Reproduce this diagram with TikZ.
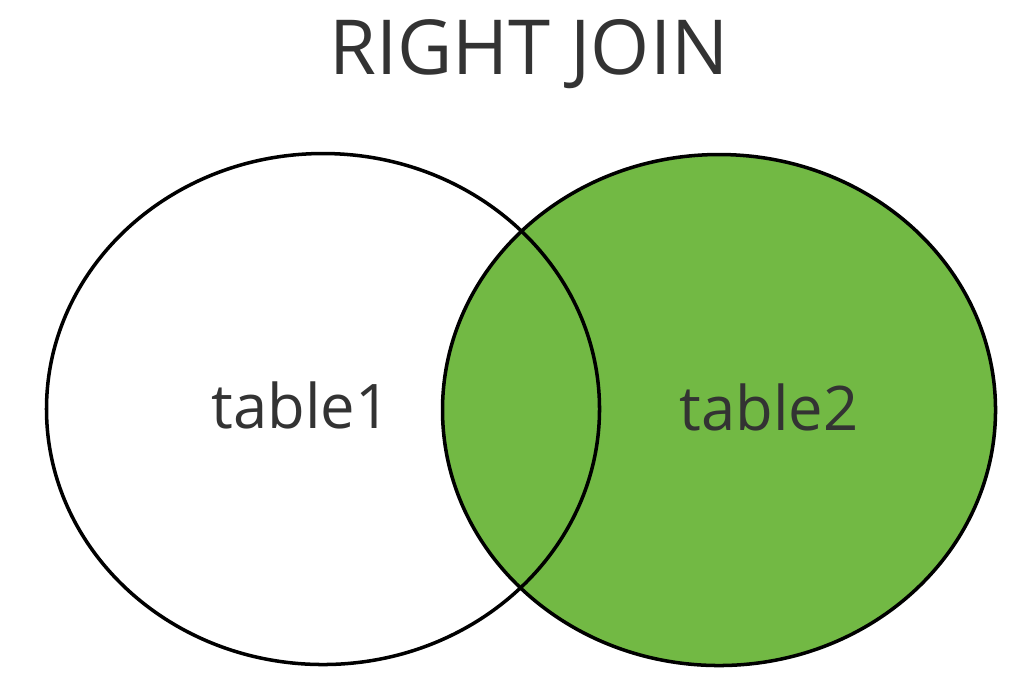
\documentclass[tikz,border=0pt]{standalone}
\usepackage{fontspec}
\setmainfont{Open Sans}
\usetikzlibrary{
    positioning,      % For placing nodes relative to each other
    shapes.geometric  % For the ellipse shape of the two sets
}
\definecolor{JoinGreen}{HTML}{72B944}
\definecolor{TextGray}{HTML}{333333}

\begin{document}
\begin{tikzpicture}[
    % Default text colour of the picture
    text=TextGray,
]
    % --- Define TikZ styles for diagram elements ---
    \tikzset{
        % Style for the two sets of the join
        tableset/.style={
            shape=ellipse,           % Slightly oval circle
            draw=black,              % Black outline
            line width=1pt,
            inner sep=0pt,
            minimum width=5.53cm,
            minimum height=5.11cm,
        },
        % Style for the set labels
        setlabel/.style={
            font=\fontsize{17.5}{20}\selectfont,
            anchor=base,
        },
        % Style for the title
        heading/.style={
            font=\fontsize{21.6}{26}\selectfont,
            anchor=base,
        }
    }

    % Fix the frame of the picture
    \useasboundingbox (0,0) rectangle (10.29,-6.80);

    % 1. Place the title on top
    \node[heading] (title) at (5.29,-0.74) {RIGHT JOIN};

    % 2. Fill the right set first, the left outline goes over it
    \node[tableset, fill=JoinGreen] (tableB) at (7.19,-4.10) {};
    \node[tableset] (tableA) at (3.23,-4.09) {};

    % 3. Place the labels inside the sets
    \node[setlabel] (labelA) at ([xshift=-0.22cm, yshift=-0.19cm]tableA.center) {table1};
    \node[setlabel] (labelB) at ([xshift=0.50cm, yshift=-0.20cm]tableB.center) {table2};

\end{tikzpicture}
\end{document}
